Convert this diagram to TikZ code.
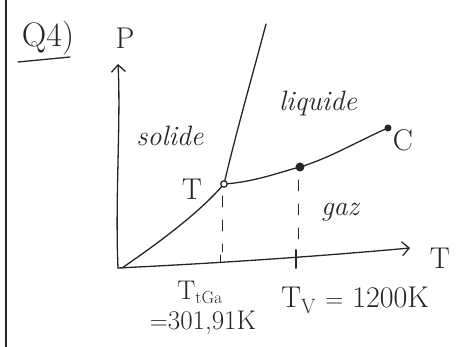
\documentclass[tikz,border=0pt]{standalone}
\usetikzlibrary{arrows.meta}
\begin{document}
\begin{tikzpicture}[x=1pt,y=-1pt,
  pen/.style={line width=1.3pt,line cap=round,line join=round,color=black!85},
  lbl/.style={font=\fontsize{30}{32}\selectfont,inner sep=0pt,text=black!85},
  title/.style={font=\fontsize{34}{36}\selectfont,inner sep=0pt,text=black!85},
  small/.style={font=\fontsize{27}{29}\selectfont,inner sep=0pt,text=black!85},
  phase/.style={font=\itshape\fontsize{28}{30}\selectfont,inner sep=0pt,text=black!85},
  guide/.style={pen,line width=1pt,dash pattern=on 11pt off 13pt},
  axisarrow/.style={pen,-{Straight Barb[length=7pt,width=14pt,line width=1.3pt]}}]
\useasboundingbox (0,0) rectangle (459,347);
% page border
\draw[pen,line width=1.6pt] (6,0) -- (6,347);
% title
\node[title] (q) at (48,38) {Q4)};
\draw[pen] (18,62) -- (70,57);
% axes
\coordinate (O) at (118,268);
\coordinate (Ptop) at (118,64);
\coordinate (Tend) at (410,248);
\draw[axisarrow] (O) .. controls (115,200) and (121,120) .. (Ptop);
\draw[axisarrow] (O) .. controls (200,264) and (300,258) .. (Tend);
\node[lbl] (P) at (125,38) {P};
\node[lbl] (Tax) at (440,258) {T};
% triple point and critical point
\coordinate (Tr) at (224,184);
\coordinate (V) at (300,167);
\coordinate (C) at (388,128);
\coordinate (M) at (266,24);
\draw[pen] (122,268) .. controls (160,242) and (200,212) .. (Tr);
\draw[pen] (Tr) .. controls (238,125) and (254,70) .. (M);
\draw[pen] (Tr) .. controls (255,182) and (280,172) .. (V) .. controls (330,158) and (360,140) .. (C);
\draw[pen,fill=white] (Tr) circle (3.2pt);
\fill[black!85] (V) circle (4.5pt);
\fill[black!85] (C) circle (3.5pt);
\node[lbl] (Tlab) at (192,189) {T};
\node[lbl] (Clab) at (403,140) {C};
% phase labels
\node[phase] (sol) at (170,136) {solide};
\node[phase] (liq) at (318,104) {liquide};
\node[phase] (gaz) at (340,212) {gaz};
% guides
\draw[guide] (222,196) -- (222,252);
\draw[guide] (298,180) -- (298,252);
\draw[pen,line width=1pt] (220,255) -- (220,262);
\draw[pen,line width=2pt] (296,250) -- (296,268);
% bottom labels
\node[small] (tga) at (200,292) {T$_{\mathrm{tGa}}$};
\node[small] (tgav) at (203,323) {$=$301,91K};
\node[lbl] (tv) at (355,300) {T$_{\mathrm{V}}$ $=$ 1200K};
\end{tikzpicture}
\end{document}
